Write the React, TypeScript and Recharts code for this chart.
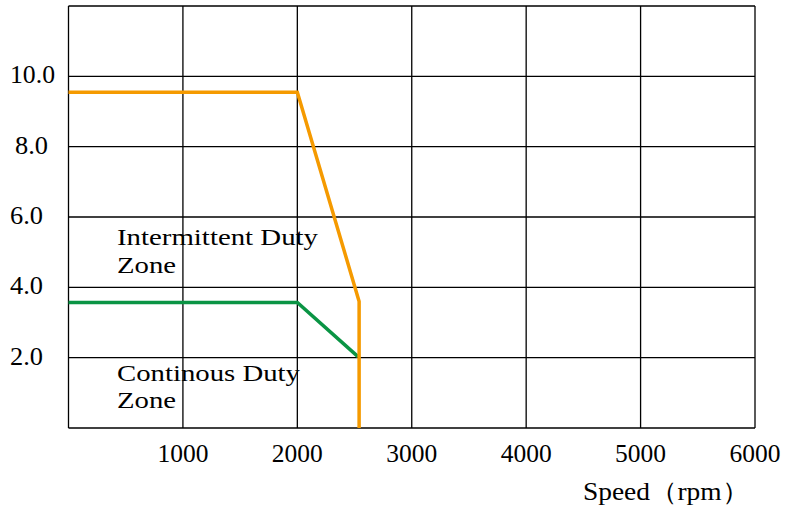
import React from "react";
import { LineChart, Line, XAxis, YAxis, CartesianGrid } from "recharts";

const xTicks = [0, 1000, 2000, 3000, 4000, 5000, 6000];
const yTicks = [0, 2, 4, 6, 8, 10, 12];
const intermittent = [
  { x: 0, y: 9.55 },
  { x: 2000, y: 9.55 },
  { x: 2540, y: 3.6 },
  { x: 2540, y: 0 },
];
const continuous = [
  { x: 0, y: 3.57 },
  { x: 2000, y: 3.57 },
  { x: 2530, y: 2.03 },
];
const FONT = "'Liberation Serif', 'Times New Roman', serif";

const XTick = (props: any) => {
  const { x, y, payload } = props;
  if (payload.value === 0) return null;
  return (
    <text
      x={x}
      y={y + 26}
      textAnchor="middle"
      fontFamily={FONT}
      fontSize={25}
      fill="#000"
      textLength={51}
      lengthAdjust="spacingAndGlyphs"
    >
      {payload.value}
    </text>
  );
};

const YTick = (props: any) => {
  const { y, payload } = props;
  if (payload.value === 0 || payload.value === 12) return null;
  const dx = payload.value === 8 ? 5 : 0;
  const len = payload.value >= 10 ? 45 : 33;
  return (
    <text
      x={10 + dx}
      y={y + 7}
      textAnchor="start"
      fontFamily={FONT}
      fontSize={25}
      fill="#000"
      textLength={len}
      lengthAdjust="spacingAndGlyphs"
    >
      {payload.value.toFixed(1)}
    </text>
  );
};

const Txt = ({ x, y, len, children, size = 24 }: any) => (
  <text x={x} y={y} fontFamily={FONT} fontSize={size} fill="#000" textLength={len} lengthAdjust="spacingAndGlyphs">
    {children}
  </text>
);

export default function App() {
  return (
    <div style={{ position: "fixed", left: 0, top: 0, width: 785, height: 512, background: "#fff" }}>
      <LineChart width={785} height={512} margin={{ top: 6, right: 30, left: 0, bottom: 0 }}>
        <CartesianGrid stroke="#000" strokeWidth={1.3} />
        <XAxis
          type="number"
          dataKey="x"
          domain={[0, 6000]}
          ticks={xTicks}
          tick={<XTick />}
          axisLine={false}
          tickLine={false}
          height={84}
          interval={0}
        />
        <YAxis
          type="number"
          dataKey="y"
          domain={[0, 12]}
          ticks={yTicks}
          tick={<YTick />}
          axisLine={false}
          tickLine={false}
          width={68.5}
          interval={0}
        />
        <Line data={continuous} dataKey="y" type="linear" stroke="#0A9444" strokeWidth={3.5} dot={false} isAnimationActive={false} />
        <Line data={intermittent} dataKey="y" type="linear" stroke="#F59A00" strokeWidth={3.5} dot={false} isAnimationActive={false} />
      </LineChart>
      <svg width={785} height={512} style={{ position: "absolute", left: 0, top: 0, pointerEvents: "none" }}>
        <Txt x={117} y={245} len={201}>Intermittent Duty</Txt>
        <Txt x={117} y={272.5} len={59}>Zone</Txt>
        <Txt x={117} y={381} len={183}>Continous Duty</Txt>
        <Txt x={117} y={407.5} len={59}>Zone</Txt>
        <Txt x={583} y={500} len={166} size={25}>Speed（rpm）</Txt>
      </svg>
    </div>
  );
}
